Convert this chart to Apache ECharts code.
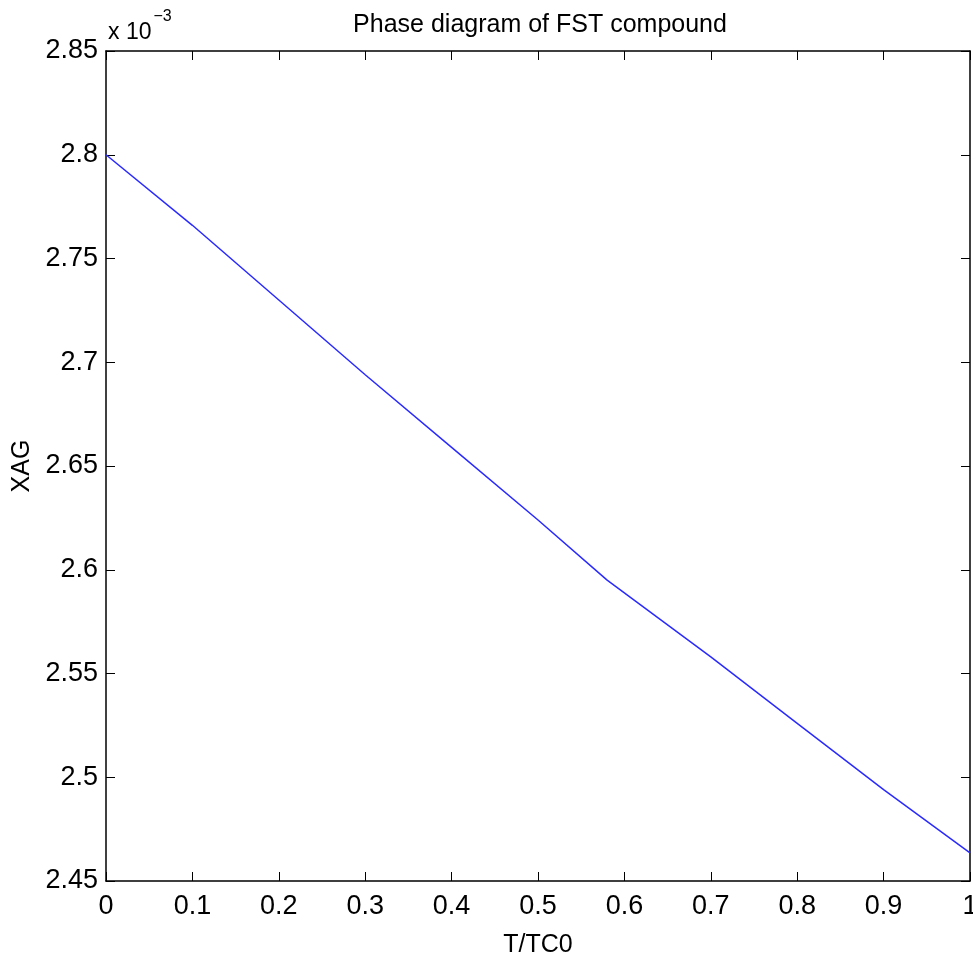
<!DOCTYPE html>
<html>
<head>
<meta charset="utf-8">
<script src="https://cdn.jsdelivr.net/npm/echarts@6/dist/echarts.min.js"></script>
<style>
html,body{margin:0;padding:0;background:#fff;overflow:hidden;}
#chart{width:973px;height:962px;}
</style>
</head>
<body>
<div id="chart"></div>
<script>
// T/TC0 values
var tValues = [0, 0.1, 0.2, 0.3, 0.4, 0.5, 0.58, 0.7, 0.8, 0.9, 1.0];
// XAG values in units of 1e-3
var xagValues = [2.800, 2.766, 2.730, 2.694, 2.659, 2.624, 2.595, 2.558, 2.526, 2.494, 2.4636];
var xTicks = [0, 0.1, 0.2, 0.3, 0.4, 0.5, 0.6, 0.7, 0.8, 0.9, 1];
var yTicks = [2.45, 2.5, 2.55, 2.6, 2.65, 2.7, 2.75, 2.8, 2.85];

var FONT = '"Liberation Sans", Arial, sans-serif';
var chart = echarts.init(document.getElementById('chart'), null, {width: 973, height: 962});
var data = tValues.map(function (t, i) { return [t, xagValues[i]]; });
function fmt(v) { return String(parseFloat(Number(v).toFixed(2))); }
var tickStyle = {show: true, inside: true, length: 9, lineStyle: {color: '#000', width: 1}};
chart.setOption({
  animation: false,
  backgroundColor: '#fff',
  title: {
    text: 'Phase diagram of FST compound',
    left: 535, top: 8, textAlign: 'center',
    textStyle: {fontFamily: FONT, fontSize: 25, fontWeight: 'normal', color: '#000'}
  },
  graphic: [{
    type: 'text', left: 108, top: 9,
    style: {
      text: '{a|x 10}{b|\u22123}',
      rich: {
        a: {fontFamily: FONT, fontSize: 23, fill: '#000', verticalAlign: 'bottom', padding: [12, 0, 0, 0]},
        b: {fontFamily: FONT, fontSize: 16, fill: '#000', verticalAlign: 'top', padding: [0, 0, 0, 2]}
      }
    }
  }],
  grid: {left: 106, right: 3, top: 51, bottom: 81, containLabel: false, outerBoundsMode: 'none', show: false},
  xAxis: [{
    type: 'value', min: 0, max: 1, interval: 0.1,
    name: 'T/TC0', nameLocation: 'middle', nameGap: 52,
    nameTextStyle: {fontFamily: FONT, fontSize: 25, color: '#000'},
    axisLine: {show: true, onZero: false, lineStyle: {color: '#000', width: 1.5}},
    axisTick: tickStyle,
    axisLabel: {fontFamily: FONT, fontSize: 27, color: '#000', margin: 12, formatter: fmt},
    splitLine: {show: false}
  }, {
    type: 'value', min: 0, max: 1, interval: 0.1, position: 'top',
    axisLine: {show: true, onZero: false, lineStyle: {color: '#000', width: 1.5}},
    axisTick: tickStyle, axisLabel: {show: false}, splitLine: {show: false}
  }],
  yAxis: [{
    type: 'value', min: 2.45, max: 2.85, interval: 0.05,
    name: 'XAG', nameLocation: 'middle', nameGap: 60, nameRotate: 90,
    nameTextStyle: {fontFamily: FONT, fontSize: 25, color: '#000'},
    axisLine: {show: true, onZero: false, lineStyle: {color: '#000', width: 1.5}},
    axisTick: tickStyle,
    axisLabel: {fontFamily: FONT, fontSize: 27, color: '#000', margin: 8, formatter: fmt},
    splitLine: {show: false}
  }, {
    type: 'value', min: 2.45, max: 2.85, interval: 0.05, position: 'right',
    axisLine: {show: true, onZero: false, lineStyle: {color: '#000', width: 1.5}},
    axisTick: tickStyle, axisLabel: {show: false}, splitLine: {show: false}
  }],
  series: [{
    type: 'line', xAxisIndex: 0, yAxisIndex: 0, data: data,
    showSymbol: false, symbol: 'none',
    lineStyle: {color: '#2a2aff', width: 1.5}
  }]
});
</script>
</body>
</html>
